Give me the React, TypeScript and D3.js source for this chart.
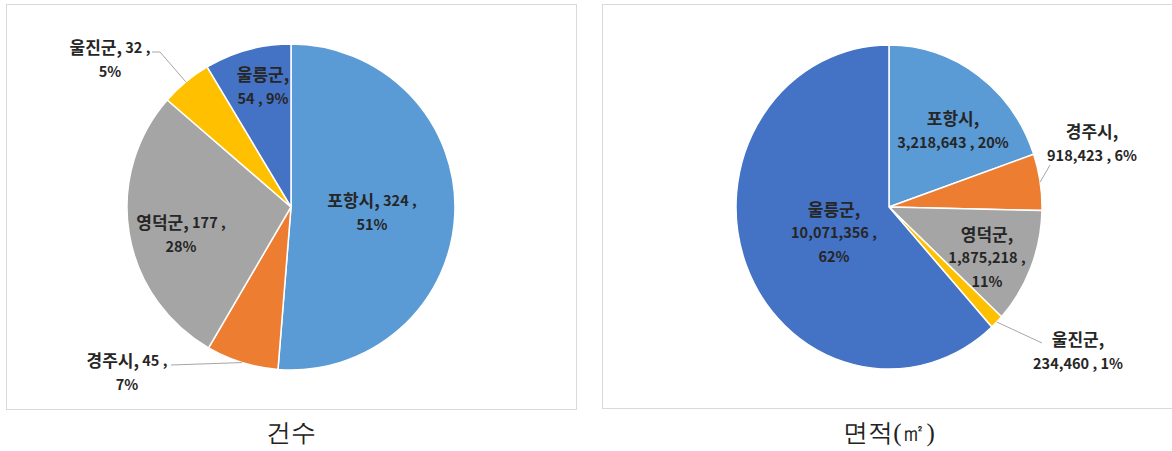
import React from "react";
import * as d3 from "d3";

const categories = ["포항시", "경주시", "영덕군", "울진군", "울릉군"];
const countValues = [324, 45, 177, 32, 54];
const areaValues = [3218643, 918423, 1875218, 234460, 10071356];
const colors = ["#5B9BD5", "#ED7D31", "#A5A5A5", "#FFC000", "#4472C4"];
const captions = ["건수", "면적(㎡)"];

// label line-break styles: which parts go on which line
type Part = "name" | "value" | "pct";
const countLines: Part[][][] = [
  [["name", "value"], ["pct"]],
  [["name", "value"], ["pct"]],
  [["name", "value"], ["pct"]],
  [["name", "value"], ["pct"]],
  [["name"], ["value", "pct"]],
];
const areaLines: Part[][][] = [
  [["name"], ["value", "pct"]],
  [["name"], ["value", "pct"]],
  [["name"], ["value"], ["pct"]],
  [["name"], ["value", "pct"]],
  [["name"], ["value"], ["pct"]],
];

// label placement relative to pie centre (layout, not data)
type LabelPos = { dx: number; dy: number; leader?: [number, number][] };
const countLabelPos: LabelPos[] = [
  { dx: 81, dy: 4 },
  { dx: -164, dy: 164, leader: [[-120, 158]] },
  { dx: -110, dy: 26 },
  { dx: -181, dy: -149, leader: [[-131, -155], [-139, -155]] },
  { dx: -28, dy: -122 },
];
const areaLabelPos: LabelPos[] = [
  { dx: 64, dy: -78 },
  { dx: 203, dy: -65, leader: [[161, -42]] },
  { dx: 98, dy: 49 },
  { dx: 189, dy: 143, leader: [[153, 136]] },
  { dx: -55, dy: 24 },
];

const W = 1172;
const H = 451;
const LINE_H = 23.5;
const FONT = "'Noto Sans CJK KR', 'Noto Sans', sans-serif";

function PieChart({
  values,
  lines,
  pos,
  cx,
  cy,
  rx,
  ry,
}: {
  values: number[];
  lines: Part[][][];
  pos: LabelPos[];
  cx: number;
  cy: number;
  rx: number;
  ry: number;
}) {
  const total = d3.sum(values);
  const pie = d3.pie<number>().sort(null).value((d) => d);
  const arcs = pie(values);
  const arc = d3.arc<d3.PieArcDatum<number>>().innerRadius(0).outerRadius(rx);
  const sy = ry / rx;
  return (
    <g>
      <g transform={`translate(${cx},${cy}) scale(1,${sy})`}>
        {arcs.map((a, i) => (
          <path
            key={i}
            d={arc(a) || ""}
            fill={colors[i]}
            stroke="#ffffff"
            strokeWidth={1.5}
            vectorEffect="non-scaling-stroke"
          />
        ))}
      </g>
      {arcs.map((a, i) => {
        const p = pos[i];
        const mid = (a.startAngle + a.endAngle) / 2;
        const ex = cx + Math.sin(mid) * rx;
        const ey = cy - Math.cos(mid) * ry;
        const pct = d3.format(".0%")(values[i] / total);
        const parts: Record<Part, string> = {
          name: categories[i] + ",",
          value: d3.format(",")(values[i]) + " ,",
          pct,
        };
        const n = lines[i].length;
        const tx = cx + p.dx;
        const ty = cy + p.dy;
        return (
          <g key={i}>
            {p.leader && (
              <polyline
                points={[[ex, ey], ...p.leader.map(([x, y]) => [cx + x, cy + y])]
                  .map((q) => q.join(","))
                  .join(" ")}
                fill="none"
                stroke="#a6a6a6"
                strokeWidth={1}
              />
            )}
            {lines[i].map((l, j) => (
              <text
                key={j}
                x={tx}
                y={ty - ((n - 1) * LINE_H) / 2 + j * LINE_H}
                textAnchor="middle"
                dominantBaseline="central"
                fontFamily={FONT}
                fontWeight={700}
                fontSize={14.5}
                fill="#262626"
              >
                {l.map((k, m) => (
                  <tspan key={k} fontSize={k === "name" ? 17 : 14.5}>
                    {(m > 0 ? " " : "") + parts[k]}
                  </tspan>
                ))}
              </text>
            ))}
          </g>
        );
      })}
    </g>
  );
}

export default function App() {
  return (
    <div style={{ position: "fixed", left: 0, top: 0, width: W, height: H, background: "#fff" }}>
      <svg width={W} height={H} viewBox={`0 0 ${W} ${H}`} style={{ display: "block" }}>
        <rect x={0} y={0} width={W} height={H} fill="#ffffff" />
        <rect x={6.5} y={4.5} width={570} height={405} fill="#ffffff" stroke="#d9d9d9" strokeWidth={1} />
        <rect x={602.5} y={4.5} width={580} height={404} fill="#ffffff" stroke="#d9d9d9" strokeWidth={1} />
        <PieChart
          values={countValues}
          lines={countLines}
          pos={countLabelPos}
          cx={291}
          cy={207}
          rx={164}
          ry={163}
        />
        <PieChart
          values={areaValues}
          lines={areaLines}
          pos={areaLabelPos}
          cx={889}
          cy={207}
          rx={153}
          ry={162}
        />
        {captions.map((c, i) => (
          <text
            key={c}
            x={i === 0 ? 291 : 889}
            y={432}
            textAnchor="middle"
            dominantBaseline="central"
            fontFamily="serif"
            fontSize={25}
            fill="#222"
          >
            {c}
          </text>
        ))}
      </svg>
    </div>
  );
}
